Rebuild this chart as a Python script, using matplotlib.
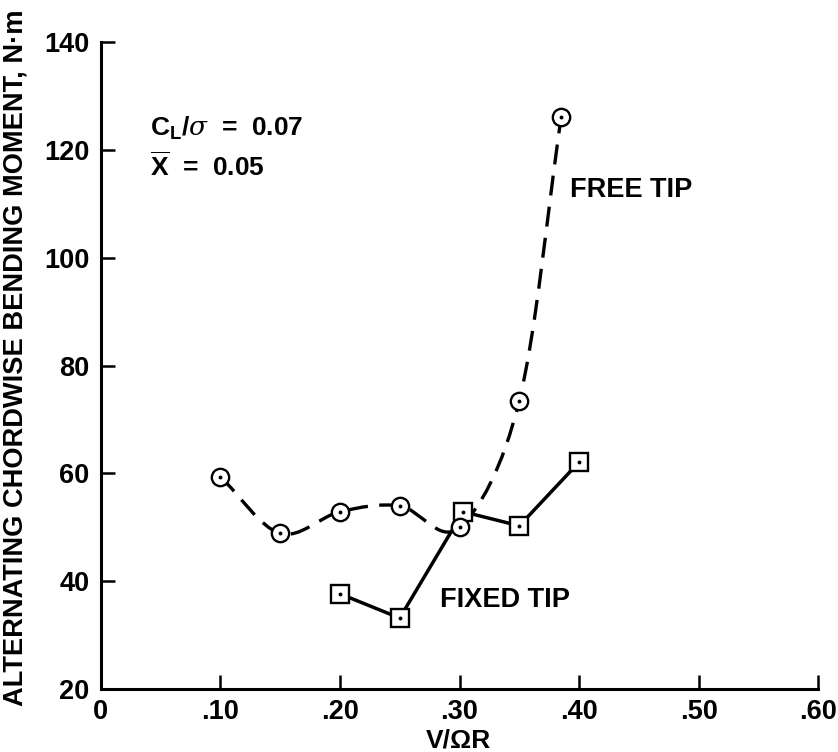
import numpy as np
import matplotlib
matplotlib.use("Agg")
import matplotlib.pyplot as plt
from matplotlib.path import Path
from matplotlib.patches import PathPatch

plt.rcParams['font.family'] = ['Liberation Sans', 'DejaVu Sans']
plt.rcParams['mathtext.fontset'] = 'custom'
plt.rcParams['mathtext.rm'] = 'Liberation Sans:bold'
plt.rcParams['mathtext.bf'] = 'Liberation Sans:bold'
plt.rcParams['mathtext.it'] = 'DejaVu Serif:italic'

# Free-tip (dashed) and fixed-tip (solid) alternating chordwise bending moment
free_mu = [0.10, 0.15, 0.20, 0.25, 0.30, 0.35, 0.385]
free_moment = [59.4, 48.9, 52.9, 54.0, 50.0, 73.5, 126.0]
fixed_mu = [0.20, 0.25, 0.303, 0.35, 0.40]
fixed_moment = [37.7, 33.2, 52.9, 50.3, 62.1]

x_ticks = [0, 0.10, 0.20, 0.30, 0.40, 0.50, 0.60]
x_tick_labels = ["0", ".10", ".20", ".30", ".40", ".50", ".60"]
y_ticks = [20, 40, 60, 80, 100, 120, 140]
y_tick_labels = ["20", "40", "60", "80", "100", "120", "140"]

fig = plt.figure(figsize=(8.38, 7.52), dpi=100)
ax = fig.add_axes([0.1202, 0.0834, 0.8563, 0.8611])
ax.set_xlim(0, 0.60)
ax.set_ylim(20, 140)


def smooth_path(xs, ys):
    """Catmull-Rom curve through the points, as cubic Bezier segments."""
    pts = np.column_stack([xs, ys]).astype(float)
    ext = np.vstack([pts[0] - (pts[1] - pts[0]), pts, pts[-1] + (pts[-1] - pts[-2])])
    verts = [tuple(pts[0])]
    codes = [Path.MOVETO]
    for i in range(1, len(ext) - 2):
        p0, p1, p2, p3 = ext[i - 1], ext[i], ext[i + 1], ext[i + 2]
        c1 = p1 + (p2 - p0) / 6.0
        c2 = p2 - (p3 - p1) / 6.0
        verts += [tuple(c1), tuple(c2), tuple(p2)]
        codes += [Path.CURVE4] * 3
    return Path(verts, codes)


curve = PathPatch(smooth_path(free_mu, free_moment), facecolor='none',
                  edgecolor='black', lw=2.4, linestyle=(0, (6, 3.4)),
                  capstyle='butt', zorder=2)
ax.add_patch(curve)
ax.plot(free_mu, free_moment, ls='none', marker='o', ms=12.5, mfc='white',
        mec='black', mew=1.7, zorder=4)
ax.plot(free_mu, free_moment, ls='none', marker='o', ms=1.8, mfc='black',
        mec='black', zorder=5)

ax.plot(fixed_mu, fixed_moment, color='black', lw=2.5, marker='s', ms=12.5,
        mfc='white', mec='black', mew=1.7, zorder=3)
ax.plot(fixed_mu, fixed_moment, ls='none', marker='o', ms=1.8, mfc='black',
        mec='black', zorder=5)

for side in ('top', 'right'):
    ax.spines[side].set_visible(False)
for side in ('left', 'bottom'):
    ax.spines[side].set_linewidth(2.2)

ax.set_xticks(x_ticks)
ax.set_xticklabels(x_tick_labels)
ax.set_yticks(y_ticks)
ax.set_yticklabels(y_tick_labels)
ax.tick_params(axis='both', direction='in', length=10, width=1.8,
               labelsize=19.5, pad=8)
ax.tick_params(axis='x', pad=7)
for lab in ax.get_xticklabels() + ax.get_yticklabels():
    lab.set_fontweight('bold')

ax.set_xlabel("V/\u03A9R", fontsize=19, fontweight='bold')
ax.xaxis.set_label_coords(0.499, -0.061)
ax.set_ylabel("ALTERNATING CHORDWISE BENDING MOMENT, N\u00B7m", fontsize=19.6,
              fontweight='bold')
ax.yaxis.set_label_coords(-0.100, 0.512)

ax.text(0.041, 124.0, r"C$_{\mathbf{L}}$/$\sigma$  =  0.07", fontsize=19,
        fontweight='bold', va='center')
ax.text(0.041, 116.8, r"$\overline{\mathbf{X}}$  =  0.05", fontsize=19,
        fontweight='bold', va='center')
ax.text(0.392, 112.5, "FREE TIP", fontsize=19.5, fontweight='bold', va='center')
ax.text(0.2837, 36.5, "FIXED TIP", fontsize=19.5, fontweight='bold', va='center')

fig.savefig("out.png", dpi=100)
